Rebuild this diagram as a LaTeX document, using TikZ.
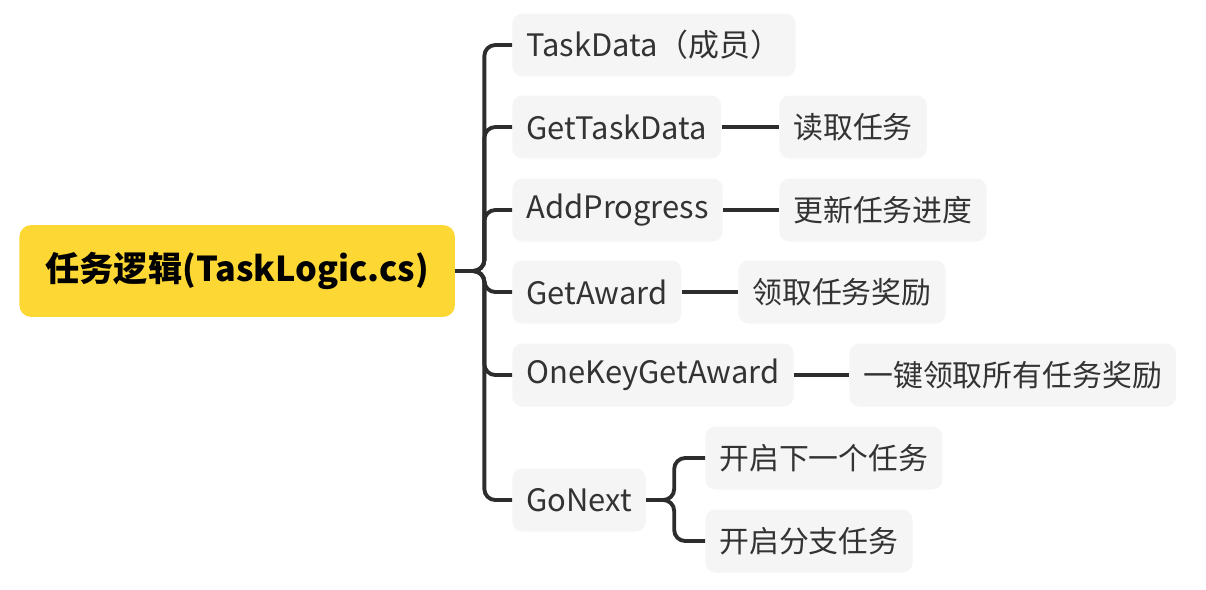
\documentclass[tikz,border=0pt]{standalone}
\usepackage{fontspec}
\setmainfont{Noto Sans CJK SC}
\definecolor{rootyellow}{RGB}{253,216,53}
\definecolor{leafgray}{RGB}{245,245,245}
\definecolor{linegray}{RGB}{45,45,45}
\definecolor{textgray}{RGB}{51,51,51}

\begin{document}
\begin{tikzpicture}[x=0.02cm,y=-0.02cm,
  root node/.style={rectangle,rounded corners=0.24cm,fill=rootyellow,anchor=west,
    minimum height=1.84cm,inner xsep=0.52cm,font=\fontsize{19.5}{23}\selectfont\bfseries},
  main node/.style={rectangle,rounded corners=0.2cm,fill=leafgray,anchor=west,
    minimum height=1.26cm,inner xsep=0.28cm,text=textgray,font=\fontsize{17}{20}\selectfont},
  code node/.style={main node,font=\fontsize{17.6}{20}\selectfont},
  link/.style={draw=linegray,line width=2.2pt,rounded corners=0.22cm}]

  \useasboundingbox (0,0) rectangle (1206,589);

  \node[root node] (root) at (19,271) {任务逻辑(TaskLogic.cs)};

  \node[code node] (t1) at (512,45) {TaskData（成员）};
  \node[code node] (t2) at (512,127) {GetTaskData};
  \node[code node] (t3) at (512,210) {AddProgress};
  \node[code node] (t4) at (512,292) {GetAward};
  \node[code node] (t5) at (512,375) {OneKeyGetAward};
  \node[code node] (t6) at (512,500) {GoNext};

  \node[main node] (s2) at (779,127) {读取任务};
  \node[main node] (s3) at (779,210) {更新任务进度};
  \node[main node] (s4) at (738,292) {领取任务奖励};
  \node[main node] (s5) at (849,375) {一键领取所有任务奖励};
  \node[main node] (g1) at (705,458) {开启下一个任务};
  \node[main node] (g2) at (705,541) {开启分支任务};

  \foreach \t in {t1,t2,t3,t4,t5,t6}
    \draw[link] (root.east) -- ++(29,0) |- (\t.west);

  \draw[link] (t2.east) -- (s2.west);
  \draw[link] (t3.east) -- (s3.west);
  \draw[link] (t4.east) -- (s4.west);
  \draw[link] (t5.east) -- (s5.west);

  \draw[link] (t6.east) -- ++(28,0) |- (g1.west);
  \draw[link] (t6.east) -- ++(28,0) |- (g2.west);
\end{tikzpicture}
\end{document}
